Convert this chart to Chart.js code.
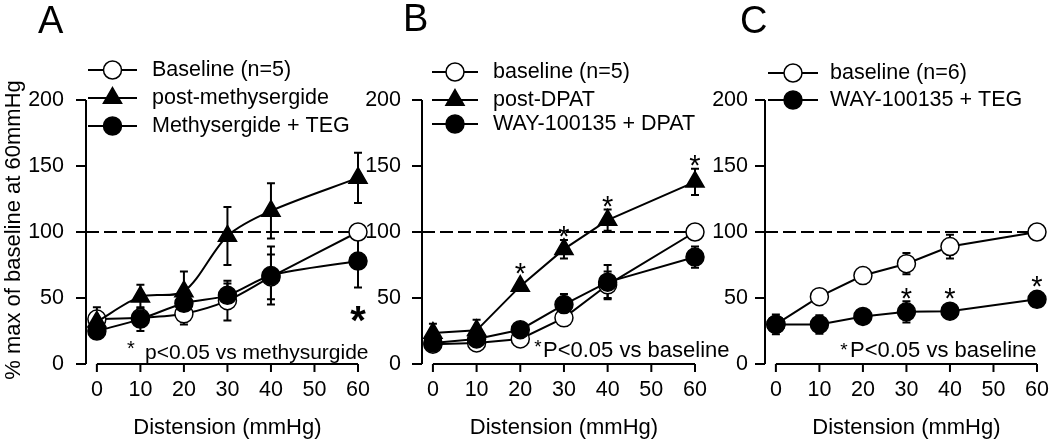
<!DOCTYPE html>
<html><head><meta charset="utf-8">
<script src="https://cdn.jsdelivr.net/npm/chart.js@4.4.1/dist/chart.umd.min.js"></script>
<style>
html,body{margin:0;padding:0;background:#fff;}
#wrap{position:relative;width:1050px;height:443px;overflow:hidden;background:#fff;}
canvas{position:absolute;left:0;top:0;}
</style></head><body>
<div id="wrap">
<canvas id="cA" width="1050" height="443"></canvas>
<canvas id="cB" width="1050" height="443"></canvas>
<canvas id="cC" width="1050" height="443"></canvas>
</div>
<script>
// ---------- data ----------
const distension = [0, 10, 20, 30, 40, 60];
const xTickValues = [0, 10, 20, 30, 40, 50, 60];
const yTickValues = [0, 50, 100, 150, 200];
const xAxisTitle = 'Distension (mmHg)';
const yAxisTitle = '% max of baseline at 60mmHg';
const referenceLevel = 100;

// Panel A
const aLabels = ['Baseline (n=5)', 'post-methysergide', 'Methysergide + TEG'];
const aBaseline = [34, 35, 38, 48, 66, 100];
const aBaselineErr = [9, 4, 8, 15, 17, 0];
const aPostMethysergide = [32, 51, 55, 97, 116, 141];
const aPostMethysergideErr = [5, 9, 15, 22, 21, 19];
const aMethysergideTeg = [25, 34, 46, 52, 67, 78];
const aMethysergideTegErr = [4, 9, 7, 9, 22, 20];
const aSigMethysergideTeg = [0, 0, 0, 0, 0, 1];
const aNote = 'p<0.05 vs methysurgide';

// Panel B
const bLabels = ['baseline (n=5)', 'post-DPAT', 'WAY-100135 + DPAT'];
const bBaseline = [15, 16, 19, 35, 60, 100];
const bBaselineErr = [3, 3, 3, 6, 10, 0];
const bPostDpat = [23.5, 25.5, 59, 87, 109, 138];
const bPostDpatErr = [7, 8, 3, 7, 8, 10];
const bWayDpat = [16, 19, 26, 45, 62, 81];
const bWayDpatErr = [4, 4, 3, 8, 13, 8];
const bSigPostDpat = [0, 0, 1, 1, 1, 1];
const bNote = 'P<0.05 vs baseline';

// Panel C
const cLabels = ['baseline (n=6)', 'WAY-100135 + TEG'];
const cBaseline = [30, 51, 67, 76, 89, 100];
const cBaselineErr = [0, 0, 0, 8, 9, 0];
const cWayTeg = [30, 30, 36, 39.5, 40, 49];
const cWayTegErr = [7.5, 7, 3, 8, 3, 3];
const cSigWayTeg = [0, 0, 0, 1, 1, 1];
const cNote = 'P<0.05 vs baseline';

// ---------- drawing ----------
const FONT = '"Liberation Sans", Arial, Helvetica, sans-serif';
const Y_TOP = 100, Y_BOTTOM = 364;
const LW = 2;
const none = [0, 0, 0, 0, 0, 0];

function drawMarker(ctx, kind, x, y) {
  ctx.save();
  ctx.lineWidth = 1.5; ctx.strokeStyle = '#000';
  ctx.beginPath();
  if (kind === 'triangle') {
    const r = 10.5;
    ctx.moveTo(x, y - r);
    ctx.lineTo(x + r * Math.sin(2 * Math.PI / 3), y - r * Math.cos(2 * Math.PI / 3));
    ctx.lineTo(x + r * Math.sin(4 * Math.PI / 3), y - r * Math.cos(4 * Math.PI / 3));
    ctx.closePath();
    ctx.fillStyle = '#000';
  } else {
    ctx.arc(x, y, 9, 0, Math.PI * 2);
    ctx.fillStyle = kind === 'open' ? '#fff' : '#000';
  }
  ctx.fill(); ctx.stroke();
  ctx.restore();
}

function drawStar(ctx, x, cy, size, bold) {
  ctx.save();
  ctx.fillStyle = '#000';
  ctx.font = (bold ? 'bold ' : '') + size + 'px ' + FONT;
  ctx.textAlign = 'center'; ctx.textBaseline = 'alphabetic';
  ctx.fillText('*', x, cy + 0.57 * size);
  ctx.restore();
}

function decor(cfg) {
  return {
    id: 'decor',
    beforeDatasetsDraw(chart) {
      const ctx = chart.ctx, xs = chart.scales.x, ys = chart.scales.y;
      ctx.save();
      ctx.strokeStyle = '#000'; ctx.lineWidth = LW;
      ctx.setLineDash([13, 5]);
      const yr = ys.getPixelForValue(referenceLevel);
      ctx.beginPath();
      ctx.moveTo(chart.chartArea.left, yr);
      ctx.lineTo(xs.getPixelForValue(60), yr);
      ctx.stroke();
      ctx.setLineDash([]);
      chart.data.datasets.forEach(ds => {
        ds.data.forEach((p, k) => {
          const e = ds.errors[k];
          if (!e) return;
          const x = xs.getPixelForValue(p.x);
          const y1 = ys.getPixelForValue(p.y + e), y2 = ys.getPixelForValue(p.y - e);
          ctx.beginPath();
          ctx.moveTo(x, y1); ctx.lineTo(x, y2);
          ctx.moveTo(x - 4, y1); ctx.lineTo(x + 4, y1);
          ctx.moveTo(x - 4, y2); ctx.lineTo(x + 4, y2);
          ctx.stroke();
        });
      });
      ctx.restore();
    },
    afterDatasetsDraw(chart) {
      const ctx = chart.ctx, xs = chart.scales.x, ys = chart.scales.y;
      const L = chart.chartArea.left;
      const y0 = ys.getPixelForValue(0), yMax = ys.getPixelForValue(200);
      ctx.save();
      ctx.strokeStyle = '#000'; ctx.lineWidth = LW; ctx.fillStyle = '#000';
      // axes
      ctx.beginPath();
      ctx.moveTo(L, y0); ctx.lineTo(L, yMax);
      yTickValues.forEach(v => { const y = ys.getPixelForValue(v); ctx.moveTo(L - 10, y); ctx.lineTo(L, y); });
      ctx.moveTo(xs.getPixelForValue(0), y0); ctx.lineTo(xs.getPixelForValue(60), y0);
      xTickValues.forEach(v => { const x = xs.getPixelForValue(v); ctx.moveTo(x, y0); ctx.lineTo(x, y0 + 8); });
      ctx.stroke();
      // tick labels
      ctx.font = '21.5px ' + FONT;
      ctx.textAlign = 'right'; ctx.textBaseline = 'middle';
      yTickValues.forEach(v => ctx.fillText(String(v), L - cfg.tickGap, ys.getPixelForValue(v)));
      ctx.textAlign = 'center';
      xTickValues.forEach(v => ctx.fillText(String(v), xs.getPixelForValue(v), 390));
      // axis titles
      ctx.font = '22px ' + FONT;
      ctx.fillText(xAxisTitle, xs.getPixelForValue(30), 428);
      if (cfg.yTitle) {
        ctx.save();
        ctx.translate(14, 230); ctx.rotate(-Math.PI / 2);
        ctx.fillText(yAxisTitle, 0, 0);
        ctx.restore();
      }
      // panel letter
      ctx.font = '38px ' + FONT;
      ctx.textAlign = 'left'; ctx.textBaseline = 'alphabetic';
      ctx.fillText(cfg.letter.text, cfg.letter.x, cfg.letter.y);
      // legend
      chart.data.datasets.forEach((ds, i) => {
        const y = cfg.legendRows[i];
        ctx.beginPath();
        ctx.moveTo(cfg.legendLine[0], y); ctx.lineTo(cfg.legendLine[1], y);
        ctx.stroke();
        drawMarker(ctx, ds.marker, (cfg.legendLine[0] + cfg.legendLine[1]) / 2, y);
        ctx.font = '21.5px ' + FONT;
        ctx.textAlign = 'left'; ctx.textBaseline = 'middle';
        ctx.fillText(ds.label, cfg.legendTextX, y);
      });
      // note
      drawStar(ctx, cfg.note.starX, cfg.note.starY, cfg.note.starSize, false);
      ctx.font = cfg.note.size + 'px ' + FONT;
      ctx.textAlign = 'left'; ctx.textBaseline = 'alphabetic';
      ctx.fillText(cfg.note.text, cfg.note.x, cfg.note.y);
      // significance marks
      chart.data.datasets.forEach(ds => {
        ds.data.forEach((p, k) => {
          if (!ds.sig[k]) return;
          const x = xs.getPixelForValue(p.x);
          const yv = ys.getPixelForValue(p.y);
          const e = ds.errors[k] || 0;
          if (ds.sigSide === 'below') {
            const bottom = Math.max(ys.getPixelForValue(p.y - e), yv + 10);
            drawStar(ctx, x, bottom + 24, 40, true);
          } else {
            const top = Math.min(ys.getPixelForValue(p.y + e), yv - 10);
            drawStar(ctx, x, top - 10, 29, false);
          }
        });
      });
      ctx.restore();
    }
  };
}

function makePanel(id, cfg) {
  return new Chart(document.getElementById(id), {
    type: 'line',
    data: {
      datasets: cfg.series.map(s => ({
        label: s.label,
        data: distension.map((d, k) => ({ x: d, y: s.values[k] })),
        errors: s.errors,
        sig: s.sig,
        sigSide: s.sigSide || 'above',
        marker: s.marker,
        pointStyle: s.marker === 'triangle' ? 'triangle' : 'circle',
        pointRadius: s.marker === 'triangle' ? 10.5 : 9,
        pointHoverRadius: s.marker === 'triangle' ? 10.5 : 9,
        pointBackgroundColor: s.marker === 'open' ? '#fff' : '#000',
        pointBorderColor: '#000',
        pointBorderWidth: 1.5,
        borderColor: '#000',
        borderWidth: LW,
        tension: cfg.tension,
        fill: false,
        clip: false,
        order: s.order
      }))
    },
    options: {
      responsive: false, animation: false, devicePixelRatio: 1,
      events: [],
      layout: { padding: { left: cfg.left, right: 1050 - cfg.right, top: Y_TOP, bottom: 443 - Y_BOTTOM } },
      scales: {
        x: { type: 'linear', min: -2.5, max: 60, display: false },
        y: { type: 'linear', min: 0, max: 200, display: false }
      },
      plugins: { legend: { display: false }, tooltip: { enabled: false } }
    },
    plugins: [decor(cfg)]
  });
}

makePanel('cA', {
  left: 86, right: 358, tickGap: 22, yTitle: true, tension: 0.3,
  letter: { text: 'A', x: 38, y: 33 },
  legendRows: [70, 98, 126], legendLine: [88, 137], legendTextX: 152,
  note: { text: aNote, x: 145, y: 359, size: 21, starX: 131, starY: 343.5, starSize: 20 },
  series: [
    { label: aLabels[0], values: aBaseline, errors: aBaselineErr, sig: none, marker: 'open', order: 2 },
    { label: aLabels[1], values: aPostMethysergide, errors: aPostMethysergideErr, sig: none, marker: 'triangle', order: 1 },
    { label: aLabels[2], values: aMethysergideTeg, errors: aMethysergideTegErr, sig: aSigMethysergideTeg, sigSide: 'below', marker: 'filled', order: 0 }
  ]
});

makePanel('cB', {
  left: 422, right: 695, tickGap: 21, yTitle: false, tension: 0,
  letter: { text: 'B', x: 403, y: 31 },
  legendRows: [72, 100, 124], legendLine: [432, 478], legendTextX: 493,
  note: { text: bNote, x: 543, y: 357, size: 22, starX: 538, starY: 342, starSize: 19 },
  series: [
    { label: bLabels[0], values: bBaseline, errors: bBaselineErr, sig: none, marker: 'open', order: 2 },
    { label: bLabels[1], values: bPostDpat, errors: bPostDpatErr, sig: bSigPostDpat, marker: 'triangle', order: 1 },
    { label: bLabels[2], values: bWayDpat, errors: bWayDpatErr, sig: none, marker: 'filled', order: 0 }
  ]
});

makePanel('cC', {
  left: 765, right: 1037, tickGap: 17, yTitle: false, tension: 0,
  letter: { text: 'C', x: 740, y: 33 },
  legendRows: [73, 100], legendLine: [768, 818], legendTextX: 830,
  note: { text: cNote, x: 850, y: 357, size: 22, starX: 844, starY: 345, starSize: 19 },
  series: [
    { label: cLabels[0], values: cBaseline, errors: cBaselineErr, sig: none, marker: 'open', order: 1 },
    { label: cLabels[1], values: cWayTeg, errors: cWayTegErr, sig: cSigWayTeg, marker: 'filled', order: 0 }
  ]
});
</script>
</body></html>
